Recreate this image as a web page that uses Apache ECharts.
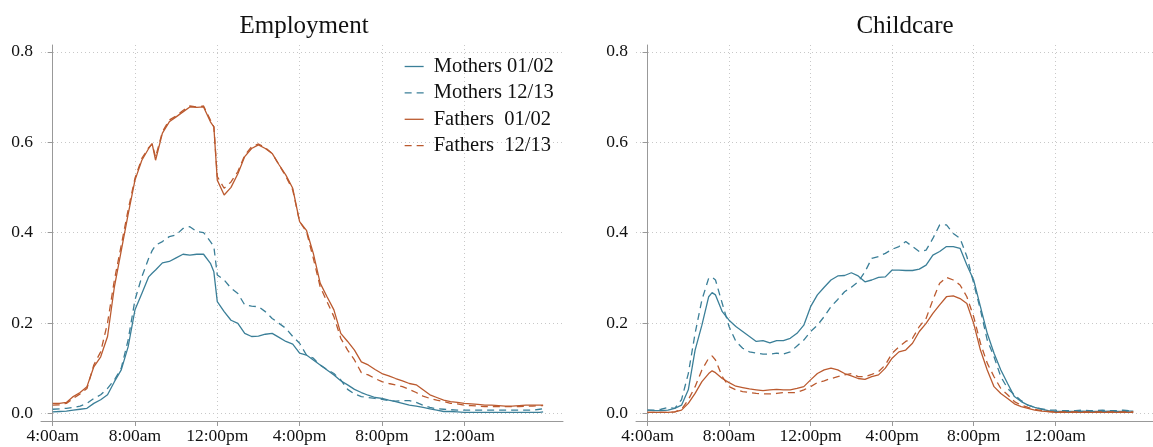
<!DOCTYPE html>
<html>
<head>
<meta charset="utf-8">
<script src="https://cdn.jsdelivr.net/npm/echarts@6/dist/echarts.min.js"></script>
<style>
  html, body { margin: 0; padding: 0; background: #fff; }
  #chart { width: 1153px; height: 447px; }
</style>
</head>
<body>
<div id="chart"></div>
<script>
// minutes after 4:00am
const empMinutes = [0, 20, 40, 60, 80, 100, 120, 140, 160, 180, 200, 220, 240, 260, 280, 290, 300, 320, 340, 360, 380, 400, 420, 440, 460, 470,
  480, 500, 520, 540, 560, 580, 600, 620, 640, 660, 680, 700, 720, 740, 760, 780, 800, 820, 840, 860, 880, 900, 920, 940, 960, 980,
  1000, 1020, 1040, 1060, 1080, 1100, 1120, 1140, 1160, 1180, 1200, 1220, 1240, 1260, 1280, 1300, 1320, 1340, 1360, 1380, 1400, 1420, 1430];

const empMothers0102 = [.003, .004, .005, .007, .009, .011, .022, .030, .041, .070, .096, .147, .229, .265, .302, .310, .317, .333, .336, .344, .352, .350, .352, .352, .332, .313,
  .247, .225, .206, .199, .177, .170, .171, .175, .177, .168, .159, .153, .133, .129, .118, .107, .096, .085, .072, .063, .053, .046, .040, .035, .033, .029,
  .026, .022, .018, .016, .013, .010, .007, .004, .004, .003, .002, .002, .002, .002, .002, .002, .002, .002, .002, .002, .002, .002, .003];
const empMothers1213 = [.009, .010, .011, .013, .016, .022, .033, .041, .055, .074, .100, .162, .251, .302, .343, .360, .372, .380, .391, .395, .409, .413, .402, .400, .380, .369,
  .306, .295, .277, .265, .240, .237, .236, .225, .210, .199, .188, .170, .155, .129, .122, .107, .097, .088, .074, .053, .043, .037, .035, .033, .031, .028,
  .027, .028, .028, .024, .018, .013, .010, .009, .008, .007, .007, .007, .007, .007, .007, .007, .007, .007, .007, .007, .007, .009, .010];
const empFathers0102 = [.022, .022, .024, .037, .046, .059, .103, .125, .170, .280, .360, .440, .516, .560, .586, .597, .560, .620, .645, .656, .667, .678, .677, .678, .645, .634,
  .516, .483, .500, .530, .568, .586, .594, .586, .575, .550, .527, .498, .424, .405, .354, .288, .258, .229, .177, .159, .140, .114, .107, .097, .088, .083,
  .077, .072, .066, .063, .052, .041, .035, .029, .026, .024, .022, .021, .020, .018, .018, .017, .016, .016, .017, .018, .018, .018, .018];
const empFathers1213 = [.018, .019, .022, .033, .043, .055, .107, .136, .200, .295, .372, .450, .520, .564, .588, .596, .567, .623, .649, .658, .670, .680, .678, .680, .649, .634,
  .524, .498, .512, .535, .571, .590, .596, .588, .575, .550, .524, .494, .424, .402, .343, .280, .247, .214, .166, .140, .118, .090, .085, .077, .070, .066,
  .063, .059, .053, .046, .038, .033, .029, .026, .022, .021, .018, .017, .016, .015, .015, .015, .015, .015, .015, .016, .016, .017, .017];

const careMinutes = [0, 20, 40, 60, 80, 100, 120, 140, 160, 180, 190, 200, 220, 240, 260, 280, 300, 320, 340, 360, 380, 400, 420, 440, 460,
  480, 500, 520, 540, 560, 580, 600, 620, 640, 660, 680, 700, 720, 740, 760, 780, 800, 820, 840, 860, 880, 900, 920, 940, 960, 980,
  1000, 1020, 1040, 1060, 1080, 1100, 1120, 1140, 1160, 1180, 1200, 1220, 1240, 1260, 1280, 1300, 1320, 1340, 1360, 1380, 1400, 1420, 1430];

const careMothers0102 = [.007, .006, .006, .007, .011, .018, .052, .140, .195, .258, .267, .262, .225, .206, .192, .181, .170, .159, .161, .156, .161, .161, .166, .177, .195,
  .236, .262, .279, .295, .304, .305, .311, .304, .291, .295, .301, .302, .317, .317, .316, .316, .319, .328, .350, .358, .369, .369, .365, .328, .295, .236,
  .177, .133, .096, .066, .037, .026, .018, .013, .009, .006, .004, .004, .004, .004, .005, .004, .004, .004, .005, .004, .004, .005, .005];
const careMothers1213 = [.007, .007, .009, .013, .011, .030, .088, .177, .251, .299, .301, .295, .243, .192, .159, .144, .136, .133, .131, .131, .133, .131, .136, .149, .162,
  .181, .195, .214, .236, .252, .269, .279, .291, .313, .343, .347, .354, .363, .369, .380, .369, .358, .361, .387, .417, .417, .398, .387, .347, .288, .229,
  .162, .125, .081, .055, .041, .028, .018, .013, .010, .007, .007, .006, .006, .006, .007, .006, .006, .007, .006, .006, .007, .006, .007];
const careFathers0102 = [.002, .002, .002, .002, .003, .007, .022, .044, .070, .088, .094, .090, .077, .068, .060, .057, .054, .052, .050, .052, .053, .052, .052, .055, .059,
  .074, .088, .096, .100, .096, .088, .083, .077, .075, .081, .085, .100, .122, .136, .140, .155, .181, .199, .221, .240, .258, .260, .254, .243, .199, .140,
  .096, .059, .044, .033, .021, .015, .011, .007, .005, .004, .002, .002, .002, .002, .002, .002, .002, .002, .002, .002, .002, .002, .002];
const careFathers1213 = [.002, .002, .002, .002, .003, .009, .030, .059, .096, .122, .127, .118, .081, .059, .052, .048, .046, .044, .043, .043, .044, .046, .046, .046, .052,
  .059, .068, .072, .077, .081, .085, .088, .081, .081, .086, .092, .107, .133, .147, .159, .166, .192, .210, .251, .288, .301, .295, .284, .258, .214, .155,
  .111, .081, .055, .041, .026, .018, .013, .009, .006, .004, .003, .003, .003, .003, .003, .003, .003, .003, .003, .003, .003, .003, .003];

const xTicks = [0, 240, 480, 720, 960, 1200];
const xTickLabels = ['4:00am', '8:00am', '12:00pm', '4:00pm', '8:00pm', '12:00am'];
const yTicks = [0, 0.2, 0.4, 0.6, 0.8];

const names = ['Mothers 01/02', 'Mothers 12/13', 'Fathers  01/02', 'Fathers  12/13'];
const blue = '#3b7f98';
const orange = '#bb5a2f';
const font = '"Liberation Serif", "DejaVu Serif", serif';

const chart = echarts.init(document.getElementById('chart'));

function pairs(xs, ys) {
  return xs.map((x, i) => [x, ys[i]]);
}

function xAxis(gridIndex) {
  return {
    type: 'value', gridIndex: gridIndex, min: -34, max: 1488,
    axisLine: { onZero: false, lineStyle: { color: '#999', width: 1 } },
    axisTick: { show: true, length: 5, customValues: xTicks, lineStyle: { color: '#999' } },
    axisLabel: {
      customValues: xTicks, margin: 6, color: '#111', fontFamily: font, fontSize: 17.5,
      formatter: v => xTickLabels[xTicks.indexOf(v)]
    },
    splitLine: { show: true, lineStyle: { color: '#c8c8c8', type: [1, 3], width: 1 } }
  };
}

function yAxis(gridIndex) {
  return {
    type: 'value', gridIndex: gridIndex, min: -0.017, max: 0.815,
    axisLine: { show: true, lineStyle: { color: '#999', width: 1 } },
    axisTick: { show: true, length: 5, customValues: yTicks, lineStyle: { color: '#999' } },
    axisLabel: {
      customValues: yTicks, margin: 8, color: '#111', fontFamily: font, fontSize: 17.5,
      formatter: v => v.toFixed(1)
    },
    splitLine: { show: true, lineStyle: { color: '#c8c8c8', type: [1, 3], width: 1 } }
  };
}

function line(name, idx, xs, ys, color, dashed) {
  return {
    name: name, type: 'line', xAxisIndex: idx, yAxisIndex: idx,
    data: pairs(xs, ys), symbol: 'none', showSymbol: false, smooth: false,
    lineStyle: { color: color, width: 1.3, type: dashed ? [7, 5] : 'solid' },
    itemStyle: { color: color },
    emphasis: { disabled: true }
  };
}

const option = {
  animation: false,
  backgroundColor: '#fff',
  title: [
    { text: 'Employment', left: 299, top: 9, textAlign: 'center',
      textStyle: { fontFamily: font, fontSize: 25, fontWeight: 'normal', color: '#111' } },
    { text: 'Childcare', left: 900, top: 9, textAlign: 'center',
      textStyle: { fontFamily: font, fontSize: 25, fontWeight: 'normal', color: '#111' } }
  ],
  legend: {
    data: names, orient: 'vertical', left: 399, top: 51,
    itemWidth: 19, itemHeight: 14, itemGap: 5.4,
    itemStyle: { opacity: 0 },
    lineStyle: { width: 1.3 },
    textStyle: { fontFamily: font, fontSize: 20.5, color: '#111', padding: [0, 0, 0, 5] }
  },
  grid: [
    { left: 41, top: 45, width: 522, height: 376 },
    { left: 636, top: 45, width: 521, height: 376 }
  ],
  xAxis: [xAxis(0), xAxis(1)],
  yAxis: [yAxis(0), yAxis(1)],
  series: [
    line(names[0], 0, empMinutes, empMothers0102, blue, false),
    line(names[1], 0, empMinutes, empMothers1213, blue, true),
    line(names[2], 0, empMinutes, empFathers0102, orange, false),
    line(names[3], 0, empMinutes, empFathers1213, orange, true),
    line(names[0], 1, careMinutes, careMothers0102, blue, false),
    line(names[1], 1, careMinutes, careMothers1213, blue, true),
    line(names[2], 1, careMinutes, careFathers0102, orange, false),
    line(names[3], 1, careMinutes, careFathers1213, orange, true)
  ]
};

chart.setOption(option);
</script>
</body>
</html>
